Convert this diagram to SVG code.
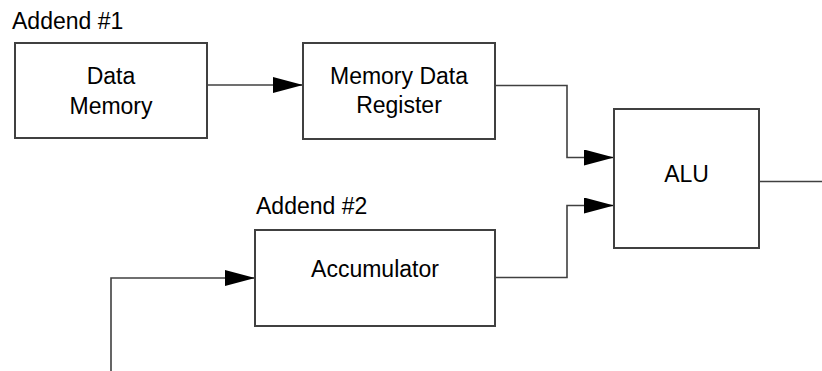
<svg xmlns="http://www.w3.org/2000/svg" width="822" height="371" viewBox="0 0 822 371">
<defs>
<marker id="arr" markerUnits="userSpaceOnUse" markerWidth="30" markerHeight="16" refX="30" refY="8" orient="auto" viewBox="0 0 30 16">
<path d="M0,0 L30,8 L0,16 z" fill="#000"/>
</marker>
<style>
.box{fill:#fff;stroke:#404040;stroke-width:2}
.t{font-family:"Liberation Sans",Arial,sans-serif;font-size:23px;fill:#000}
.c{text-anchor:middle}
.ln{fill:none;stroke:#404040;stroke-width:1.6}
.ar{marker-end:url(#arr)}
</style>
</defs>
<rect width="822" height="371" fill="#fff"/>
<g id="connectors">
<path class="ln ar" d="M207,85 H303"/>
<path class="ln ar" d="M495,85.5 H567 V157.5 H614"/>
<path class="ln ar" d="M495,277.5 H567 V205.5 H614"/>
<path class="ln ar" d="M111,371 V278 H255"/>
<path class="ln" d="M759,181.5 H822"/>
</g>
<g id="data-memory">
<text class="t" x="12" y="29">Addend #1</text>
<rect class="box" x="15" y="43" width="192" height="95"/>
<text class="t c" x="111" y="84">Data</text>
<text class="t c" x="111" y="114">Memory</text>
</g>
<g id="mdr">
<rect class="box" x="303" y="43" width="192" height="96"/>
<text class="t c" x="399" y="84">Memory Data</text>
<text class="t c" x="399" y="113">Register</text>
</g>
<g id="accumulator">
<text class="t" x="256" y="214">Addend #2</text>
<rect class="box" x="255" y="230" width="240" height="96"/>
<text class="t c" x="375" y="277">Accumulator</text>
</g>
<g id="alu">
<rect class="box" x="614" y="109" width="145" height="139"/>
<text class="t c" x="686.5" y="182">ALU</text>
</g>
</svg>
